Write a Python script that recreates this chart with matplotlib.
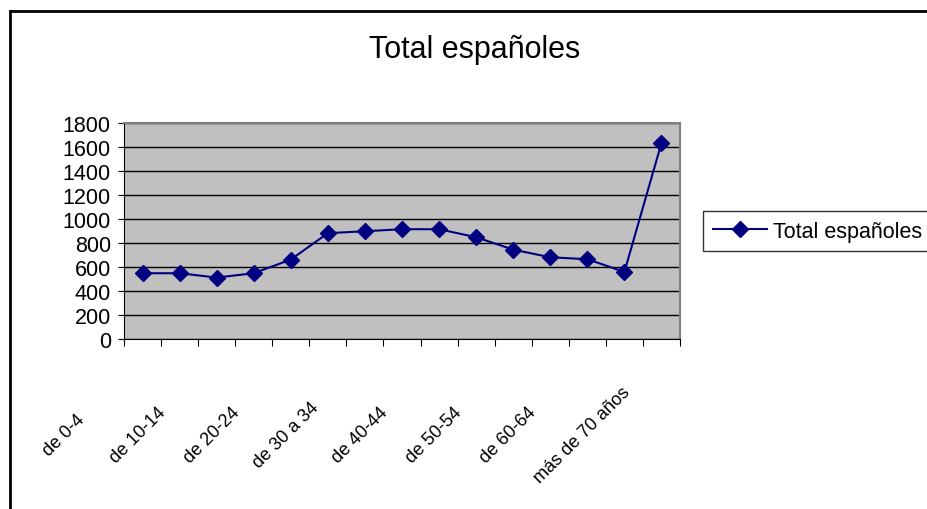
import numpy as np
import matplotlib.pyplot as plt
from matplotlib.lines import Line2D

categories = ["de 0-4", "de 5-9", "de 10-14", "de 15-19", "de 20-24", "de 25-29",
              "de 30 a 34", "de 35-39", "de 40-44", "de 45-49", "de 50-54",
              "de 55-59", "de 60-64", "de 65-69", "más de 70 años"]
values = [548, 548, 512, 548, 662, 882, 898, 915, 915, 848, 745, 681, 665, 559, 1633]
yticks = [0, 200, 400, 600, 800, 1000, 1200, 1400, 1600, 1800]

plt.rcParams['font.family'] = ['Liberation Sans', 'DejaVu Sans']

fig = plt.figure(figsize=(9.27, 5.1), dpi=100)
ax = fig.add_axes([124/927, 1 - 340/510, (680 - 124)/927, (340 - 124)/510])

x = np.arange(len(categories))
navy = '#000080'
ax.plot(x, values, color=navy, lw=1.5, marker='D', markersize=8, label='Total españoles')

ax.set_facecolor('#C0C0C0')
ax.set_xlim(-0.5, len(categories) - 0.5)
ax.set_ylim(0, 1800)
ax.set_yticks(yticks)
ax.yaxis.grid(True, color='black', lw=1)
ax.set_axisbelow(True)
ax.tick_params(axis='y', labelsize=15.5, length=4, direction='out', pad=5.5)

# tick marks at category boundaries, labels every other category
ax.set_xticks(np.arange(-0.5, len(categories), 1))
ax.set_xticklabels([])
ax.tick_params(axis='x', which='major', length=5, direction='out')
for i in x[::2]:
    ax.annotate(categories[i], xy=(i, 0), xycoords=('data', 'axes fraction'),
                xytext=(-79, -96), textcoords='offset pixels', rotation=45,
                rotation_mode='anchor', ha='center', va='center', fontsize=13,
                annotation_clip=False)

for side in ['top', 'right']:
    ax.spines[side].set_color('#808080')
    ax.spines[side].set_linewidth(1.5)
for side in ['left', 'bottom']:
    ax.spines[side].set_color('black')

fig.text(475/927, 1 - 50/510, 'Total españoles', ha='center', va='center', fontsize=22)

leg = fig.legend(handles=[Line2D([], [], color=navy, lw=1.5, marker='D', markersize=8)],
                 labels=['Total españoles'], loc='upper left',
                 bbox_to_anchor=(703/927, 1 - 212/510), borderaxespad=0, fontsize=15.5,
                 frameon=True, fancybox=False, edgecolor='black', handlelength=2.5,
                 handletextpad=0.3, borderpad=0.45)
leg.get_frame().set_linewidth(1)

# outer chart border (left and top visible)
fig.add_artist(Line2D([10/927, 10/927], [0, 1 - 12/510], color='black', lw=2,
                      transform=fig.transFigure))
fig.add_artist(Line2D([10/927, 1], [1 - 12/510, 1 - 12/510], color='black', lw=2,
                      transform=fig.transFigure))

fig.savefig('out.png', dpi=100)
